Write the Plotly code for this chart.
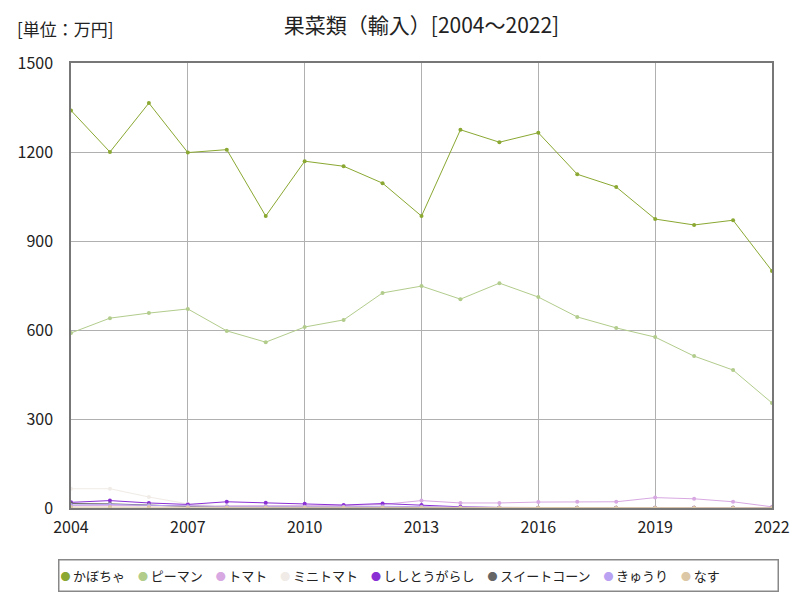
import plotly.graph_objects as go

years = list(range(2004, 2023))

kabocha = [1340, 1200, 1365, 1198, 1208, 984, 1169, 1152, 1095, 984, 1275, 1233, 1265, 1125, 1082, 974, 954, 970, 799]
piman = [590, 640, 657, 671, 597, 559, 610, 634, 725, 748, 704, 758, 711, 644, 607, 576, 512, 465, 354]
tomato = [8, 8, 7, 6, 6, 7, 7, 8, 12, 25, 17, 17, 20, 21, 21, 35, 31, 21, 4]
minitomato = [65, 65, 37, 14, 6, 5, 4, 3, 3, 3, 2, 2, 2, 2, 2, 2, 2, 2, 1]
shishito = [19, 25, 17, 12, 21, 18, 14, 10, 15, 10, 4, 2, 1, 1, 1, 1, 1, 1, 1]
sweetcorn = [15, 14, 10, 5, 4, 3, 3, 2, 2, 2, 1, 1, 1, 1, 1, 1, 1, 1, 1]
kyuri = [10, 12, 9, 6, 5, 5, 4, 4, 6, 4, 2, 1, 1, 1, 1, 1, 1, 1, 1]
nasu = [3, 3, 3, 2, 2, 2, 2, 2, 2, 2, 1, 1, 1, 1, 1, 1, 1, 1, 1]

series = [
    ("かぼちゃ", kabocha, "#8aa832"),
    ("ピーマン", piman, "#b2cc8c"),
    ("トマト", tomato, "#d8a8e2"),
    ("ミニトマト", minitomato, "#f0ebe6"),
    ("ししとうがらし", shishito, "#8a2fd4"),
    ("スイートコーン", sweetcorn, "#666666"),
    ("きゅうり", kyuri, "#b9a2f2"),
    ("なす", nasu, "#dcc8a6"),
]

FONT = "Noto Sans CJK JP"

fig = go.Figure()
for name, vals, color in series:
    fig.add_trace(go.Scatter(
        x=years, y=vals, name=name, mode="lines+markers",
        line=dict(color=color, width=1),
        marker=dict(color=color, size=4),
    ))

# legend row built from the series list (dot + name), in a bordered box
legend_text = "\u3000".join(
    f"<span style='color:{c};font-size:10px'>●</span>\u2009{n}" for n, _, c in series
)

fig.update_layout(
    width=800, height=600,
    paper_bgcolor="white", plot_bgcolor="white",
    margin=dict(l=71, r=28, t=63, b=92, autoexpand=False),
    font=dict(family=FONT, color="#222"),
    title=dict(text="果菜類（輸入）[2004～2022]", xref="paper", x=0.5, xanchor="center",
               y=0.958, yanchor="middle", font=dict(size=21, family=FONT, color="#222")),
    showlegend=False,
    annotations=[
        dict(text="[単位：万円]", xref="paper", yref="paper", x=-0.0799, y=1.078,
             xanchor="left", yanchor="middle", showarrow=False,
             font=dict(size=17, family=FONT, color="#222")),
        dict(text=legend_text, xref="paper", yref="paper", x=-0.0185, y=-0.1506,
             xanchor="left", yanchor="middle", showarrow=False, align="left",
             width=716, height=28, bordercolor="#888", borderwidth=1.5, borderpad=1,
             font=dict(size=13, family=FONT, color="#222")),
    ],
)

fig.update_xaxes(range=[2004, 2022], tickvals=[2004, 2007, 2010, 2013, 2016, 2019, 2022],
                 showgrid=True, gridcolor="#b0b0b0", gridwidth=1,
                 showline=True, linecolor="#777", linewidth=1.5, mirror=True,
                 ticks="", ticklabelstandoff=4, automargin=False,
                 tickfont=dict(size=16, family=FONT), zeroline=False)
fig.update_yaxes(range=[0, 1500], tickvals=[0, 300, 600, 900, 1200, 1500],
                 showgrid=True, gridcolor="#b0b0b0", gridwidth=1,
                 showline=True, linecolor="#777", linewidth=1.5, mirror=True,
                 ticks="", ticklabelstandoff=13, automargin=False,
                 tickfont=dict(size=16, family=FONT), zeroline=False)

fig.write_html("out.html", post_script="document.body.style.margin='0';",
               config={"displayModeBar": False})
